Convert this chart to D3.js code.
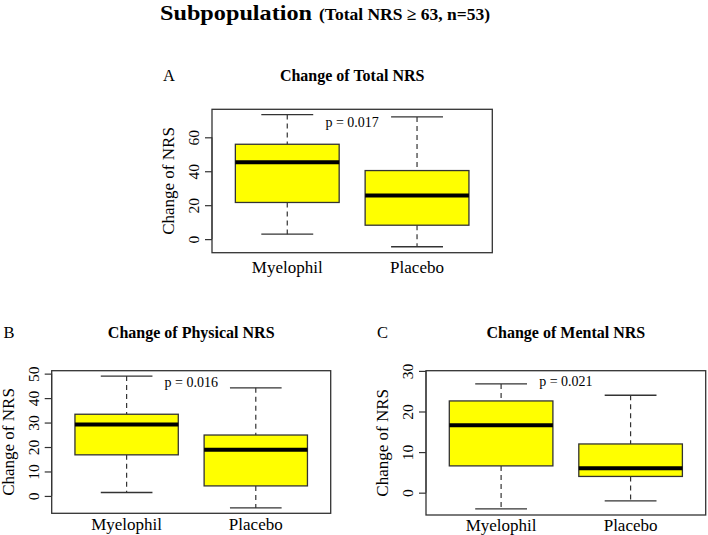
<!DOCTYPE html>
<html>
<head>
<meta charset="utf-8">
<script src="https://cdn.jsdelivr.net/npm/d3@7"></script>
<style>
  body { margin: 0; background: #fff; }
</style>
</head>
<body>
<div id="chart"></div>
<script>
// categories
const groups = ["Myelophil", "Placebo"];

// box stats per group: [lower whisker, Q1, median, Q3, upper whisker]
const totalStats = [[2.9, 21.6, 45.3, 55.9, 73.4], [-4.5, 8.2, 25.7, 40.4, 72.0]];
const physicalStats = [[1.4, 16.8, 29.2, 33.4, 49.0], [-4.9, 4.1, 18.9, 24.9, 44.2]];
const mentalStats = [[-4.0, 6.6, 16.6, 22.6, 26.8], [-2.0, 4.0, 6.0, 12.0, 24.0]];

// tick labels
const totalTicks = [0, 20, 40, 60];
const physicalTicks = [0, 10, 20, 30, 40, 50];
const mentalTicks = [0, 10, 20, 30];

// annotations
const pLabels = ["p = 0.017", "p = 0.016", "p = 0.021"];
const pHeights = [66, 44.5, 26.3];
const panelTitles = ["Change of Total NRS", "Change of Physical NRS", "Change of Mental NRS"];
const panelLetters = ["A", "B", "C"];

const W = 708, H = 535;
const SERIF = "'Liberation Serif', 'Times New Roman', Times, serif";

const svg = d3.select("#chart").append("svg")
    .attr("width", W)
    .attr("height", H)
    .style("font-family", SERIF);

svg.append("rect").attr("width", W).attr("height", H).attr("fill", "#fff");

// main title (kept just below the top edge)
svg.append("text")
    .attr("x", 160)
    .attr("y", 19.5)
    .attr("font-size", 21.5)
    .attr("font-weight", "bold")
    .attr("textLength", 152)
    .attr("lengthAdjust", "spacingAndGlyphs")
    .style("font-family", SERIF)
    .text("Subpopulation");
svg.append("text")
    .attr("x", 319)
    .attr("y", 19.5)
    .attr("font-size", 17.5)
    .attr("font-weight", "bold")
    .style("font-family", SERIF)
    .text("(Total NRS \u2265 63, n=53)");

// panel frames (pixel boxes) and y limits
const panels = [
    { stats: totalStats, ticks: totalTicks, yLim: [-8.0, 76.5], left: 212, right: 492.3, top: 109.3, bottom: 252.7,
      titleY: 81, letterX: 163, xLabelGap: 20.6 },
    { stats: physicalStats, ticks: physicalTicks, yLim: [-7.1, 51.2], left: 51.7, right: 330.7, top: 370.7, bottom: 513.3,
      titleY: 338, letterX: 3.5, xLabelGap: 16.7 },
    { stats: mentalStats, ticks: mentalTicks, yLim: [-5.5, 30.05], left: 426, right: 705.7, top: 370.7, bottom: 515,
      titleY: 337.5, letterX: 377, xLabelGap: 15.7 }
];

panels.forEach((p, i) => drawPanel(p, i));

function drawPanel(p, i) {
    const x = d3.scaleLinear().domain([0.42, 2.58]).range([p.left, p.right]);
    const y = d3.scaleLinear().domain(p.yLim).range([p.bottom, p.top]);
    const g = svg.append("g");
    const cx = (p.left + p.right) / 2;

    // letter + title
    g.append("text")
        .attr("x", p.letterX)
        .attr("y", p.titleY)
        .attr("font-size", 16.5)
        .style("font-family", SERIF)
        .text(panelLetters[i]);
    g.append("text")
        .attr("x", cx)
        .attr("y", p.titleY)
        .attr("text-anchor", "middle")
        .attr("font-size", 16)
        .attr("font-weight", "bold")
        .style("font-family", SERIF)
        .text(panelTitles[i]);

    // y axis
    const yAxis = g.append("g")
        .attr("transform", "translate(" + p.left + ",0)")
        .call(d3.axisLeft(y).tickValues(p.ticks).tickSize(7).tickPadding(4));
    yAxis.attr("font-family", null).attr("font-size", null);
    yAxis.select(".domain")
        .attr("d", "M0," + y(p.ticks[0]) + "V" + y(p.ticks[p.ticks.length - 1]))
        .attr("stroke", "#333");
    yAxis.selectAll(".tick line").attr("stroke", "#333").attr("stroke-width", 1.2);
    yAxis.selectAll(".tick text")
        .attr("x", 0)
        .attr("dy", null)
        .attr("font-size", 15.5)
        .style("font-family", SERIF)
        .attr("fill", "#000")
        .attr("text-anchor", "middle")
        .attr("transform", "translate(-13,0) rotate(-90)");

    g.append("text")
        .attr("transform", "translate(" + (p.left - 38) + "," + ((p.top + p.bottom) / 2) + ") rotate(-90)")
        .attr("text-anchor", "middle")
        .attr("font-size", 17)
        .style("font-family", SERIF)
        .text("Change of NRS");

    // x labels
    g.selectAll(".xlab")
        .data(groups)
        .enter().append("text")
        .attr("class", "xlab")
        .attr("x", (d, j) => x(j + 1))
        .attr("y", p.bottom + p.xLabelGap)
        .attr("text-anchor", "middle")
        .attr("font-size", 17)
        .style("font-family", SERIF)
        .text(d => d);

    // boxes
    const boxes = g.selectAll(".box")
        .data(p.stats)
        .enter().append("g")
        .attr("class", "box");

    // whiskers (dashed)
    boxes.append("line")
        .attr("x1", (d, j) => x(j + 1)).attr("x2", (d, j) => x(j + 1))
        .attr("y1", d => y(d[4])).attr("y2", d => y(d[3]))
        .attr("stroke", "#333").attr("stroke-width", 1.2).attr("stroke-dasharray", "5,4");
    boxes.append("line")
        .attr("x1", (d, j) => x(j + 1)).attr("x2", (d, j) => x(j + 1))
        .attr("y1", d => y(d[1])).attr("y2", d => y(d[0]))
        .attr("stroke", "#333").attr("stroke-width", 1.2).attr("stroke-dasharray", "5,4");

    // caps
    [0, 4].forEach(k => {
        boxes.append("line")
            .attr("x1", (d, j) => x(j + 0.8)).attr("x2", (d, j) => x(j + 1.2))
            .attr("y1", d => y(d[k])).attr("y2", d => y(d[k]))
            .attr("stroke", "#333").attr("stroke-width", 1.3);
    });

    boxes.append("rect")
        .attr("x", (d, j) => x(j + 0.6))
        .attr("width", x(1.4) - x(0.6))
        .attr("y", d => y(d[3]))
        .attr("height", d => y(d[1]) - y(d[3]))
        .attr("fill", "#ffff00")
        .attr("stroke", "#333")
        .attr("stroke-width", 1.3);

    boxes.append("line")
        .attr("x1", (d, j) => x(j + 0.6)).attr("x2", (d, j) => x(j + 1.4))
        .attr("y1", d => y(d[2])).attr("y2", d => y(d[2]))
        .attr("stroke", "#000").attr("stroke-width", 4);

    // frame
    g.append("rect")
        .attr("x", p.left).attr("y", p.top)
        .attr("width", p.right - p.left).attr("height", p.bottom - p.top)
        .attr("fill", "none").attr("stroke", "#333").attr("stroke-width", 1.3);

    // p value
    g.append("text")
        .attr("x", x(1.5))
        .attr("y", y(pHeights[i]))
        .attr("text-anchor", "middle")
        .attr("font-size", 14)
        .style("font-family", SERIF)
        .text(pLabels[i]);
}
</script>
</body>
</html>
